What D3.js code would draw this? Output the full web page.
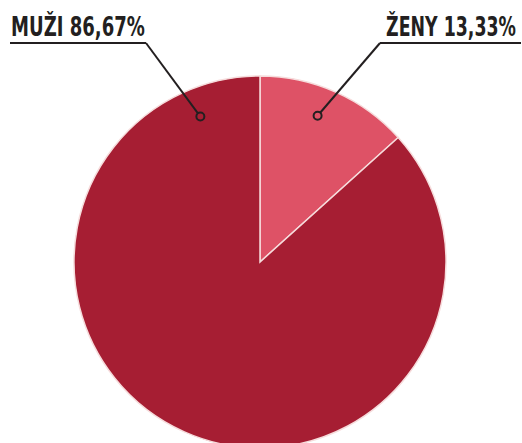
<!DOCTYPE html>
<html>
<head>
<meta charset="utf-8">
<script src="https://cdn.jsdelivr.net/npm/d3@7"></script>
<style>
  body { margin: 0; background: #fff; }
  svg { display: block; }
  .lbl { font-family: "DejaVu Sans Condensed", "DejaVu Sans", sans-serif; font-weight: bold; fill: #231f20; }
</style>
</head>
<body>
<div id="chart"></div>
<script>
// data
var categories = ["ŽENY", "MUŽI"];
var values = [13.33, 86.67];
var labels = ["ŽENY 13,33%", "MUŽI 86,67%"];
var colors = ["#de5266", "#a61e33"];

var width = 522, height = 443;
var cx = 260, cy = 262, radius = 186;

var svg = d3.select("#chart")
	.append("svg")
	.attr("width", width)
	.attr("height", height);

var pie = d3.pie().sort(null).value(d => d);
var arc = d3.arc().innerRadius(0).outerRadius(radius);

var g = svg.append("g")
	.attr("transform", `translate(${cx},${cy})`);

g.selectAll("path")
	.data(pie(values))
	.enter()
		.append("path")
		.attr("d", arc)
		.attr("fill", (d, i) => colors[i])
		.attr("stroke", "#f6dcdc")
		.attr("stroke-width", 1.5);

// label annotations: text, underline, leader to a small ring inside the slice
var ann = [
	{ i: 0, angle: 21.5, textX: 516, anchor: "end", textW: 130, lineX1: 380, lineX2: 521 },
	{ i: 1, angle: -22.3, textX: 11, anchor: "start", textW: 134, lineX1: 10, lineX2: 146 }
];

ann.forEach(function(a) {
	var rad = a.angle * Math.PI / 180;
	var r = radius * 0.845;
	var px = cx + r * Math.sin(rad);
	var py = cy - r * Math.cos(rad);
	var elbowX = a.angle > 0 ? a.lineX1 : a.lineX2;

	// condensed look: squeeze the text horizontally to the width seen in the picture
	var tg = svg.append("g");
	var t = tg.append("text")
		.attr("class", "lbl")
		.attr("font-size", 26)
		.attr("text-anchor", a.anchor)
		.text(labels[a.i]);
	var s = a.textW / t.node().getComputedTextLength();
	tg.attr("transform", `translate(${a.textX},36) scale(${s},1)`);

	svg.append("line")
		.attr("x1", a.lineX1).attr("x2", a.lineX2)
		.attr("y1", 43).attr("y2", 43)
		.attr("stroke", "#231f20")
		.attr("stroke-width", 2);

	svg.append("line")
		.attr("x1", elbowX).attr("y1", 43)
		.attr("x2", px).attr("y2", py)
		.attr("stroke", "#231f20")
		.attr("stroke-width", 2);

	svg.append("circle")
		.attr("cx", px).attr("cy", py)
		.attr("r", 4)
		.attr("fill", colors[a.i])
		.attr("stroke", "#231f20")
		.attr("stroke-width", 2);
});
</script>
</body>
</html>
